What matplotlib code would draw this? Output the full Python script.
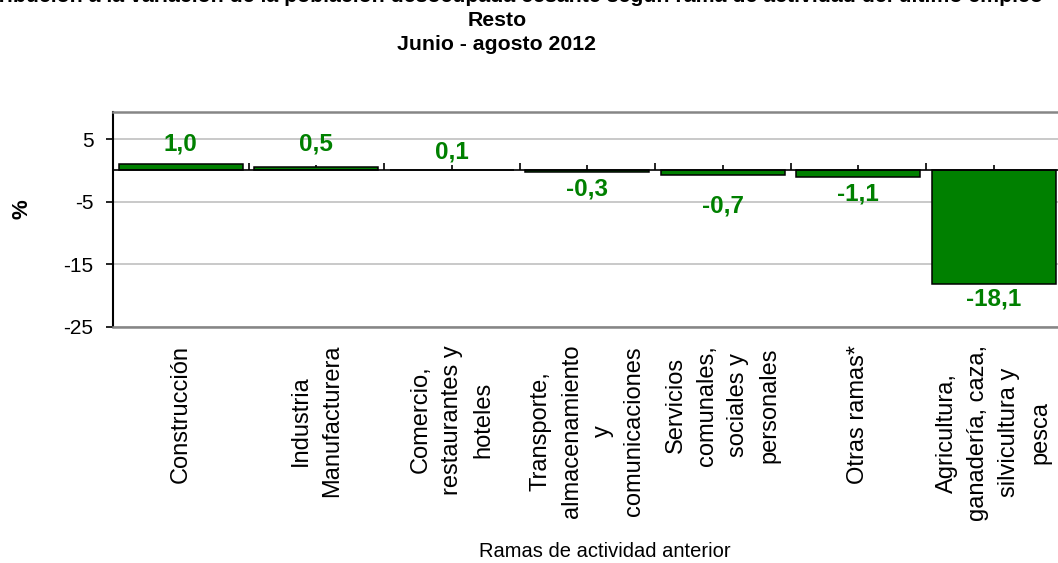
import matplotlib.pyplot as plt
import numpy as np

plt.rcParams['font.family'] = ['Liberation Sans', 'DejaVu Sans']
plt.rcParams['axes.unicode_minus'] = False

# datos
ramas = ['Construcción',
         'Industria\nManufacturera',
         'Comercio,\nrestaurantes y\nhoteles',
         'Transporte,\nalmacenamiento\ny\ncomunicaciones',
         'Servicios\ncomunales,\nsociales y\npersonales',
         'Otras ramas*',
         'Agricultura,\nganadería, caza,\nsilvicultura y\npesca']
valores = [1.0, 0.5, 0.1, -0.3, -0.7, -1.1, -18.1]
etiquetas = ['1,0', '0,5', '0,1', '-0,3', '-0,7', '-1,1', '-18,1']
y_ticks = [5, -5, -15, -25]
titulo = ['Contribución a la variación de la población desocupada cesante según rama de actividad del último empleo',
          'Resto',
          'Junio - agosto 2012']

# desplazamiento de las etiquetas respecto al extremo de la barra (px)
desplaz = [20, 23, 18, -17, -31, -17, -15]

verde = '#008000'
W, H = 1058, 563

fig = plt.figure(figsize=(W / 100, H / 100), dpi=100)
ax = fig.add_axes([113 / W, 1 - 326.7 / H, (1061.5 - 113) / W, (326.7 - 112.3) / H])

x = np.arange(len(valores))
ax.bar(x, valores, width=0.915, color=verde, edgecolor='black', linewidth=1.1, zorder=3)

ax.set_xlim(-0.5, len(valores) - 0.5)
ax.set_ylim(-25, 9.3)
ax.set_yticks(y_ticks)
ax.yaxis.grid(True, color='#c0c0c0', linewidth=1.2, zorder=0)
ax.tick_params(axis='y', direction='out', length=5, width=1.2, pad=9, labelsize=15)

# eje de categorías en el cero
ax.spines['bottom'].set_position(('data', 0))
ax.spines['bottom'].set_linewidth(1.2)
ax.spines['bottom'].set_zorder(4)
ax.spines['left'].set_linewidth(1.5)
ax.spines['top'].set_color('#868686')
ax.spines['top'].set_linewidth(1.8)
ax.spines['right'].set_visible(False)
ax.axhline(-25, color='#868686', linewidth=1.8, clip_on=False, zorder=4)

ax.set_xticks(np.arange(len(valores) + 1) - 0.5)
ax.set_xticks(x, minor=True)
ax.tick_params(axis='x', which='major', direction='in', length=5, width=1.2, labelbottom=False)
ax.tick_params(axis='x', which='minor', direction='in', length=3.5, width=1.2, labelbottom=False)

# etiquetas de categorías abajo
sec = ax.secondary_xaxis('bottom')
sec.set_xticks(x, ramas)
sec.tick_params(length=0, pad=13, labelsize=17)
sec.spines['bottom'].set_visible(False)
for t in sec.get_xticklabels():
    t.set_rotation(90)
    t.set_multialignment('center')
    t.set_linespacing(1.55)

# etiquetas de datos
for xi, v, lab, d in zip(x, valores, etiquetas, desplaz):
    ax.annotate(lab, (xi, v), xytext=(0, d * 0.72), textcoords='offset points',
                ha='center', va='center', fontsize=17.5, fontweight='bold', color=verde, zorder=5)

fig.text(22 / W, 1 - 209 / H, '%', rotation=90, ha='center', va='center',
         fontsize=16, fontweight='bold')
fig.text(605 / W, 1 - 557 / H, 'Ramas de actividad anterior', ha='center', va='baseline', fontsize=14.5)

# la primera línea del título queda cortada arriba, como en el original
for i, linea in enumerate(titulo):
    base = [2.5, 26, 50][i]
    fig.text(496.7 / W, 1 - base / H, linea, ha='center', va='baseline',
             fontsize=15.3, fontweight='bold')

fig.savefig('out.png', dpi=100)
